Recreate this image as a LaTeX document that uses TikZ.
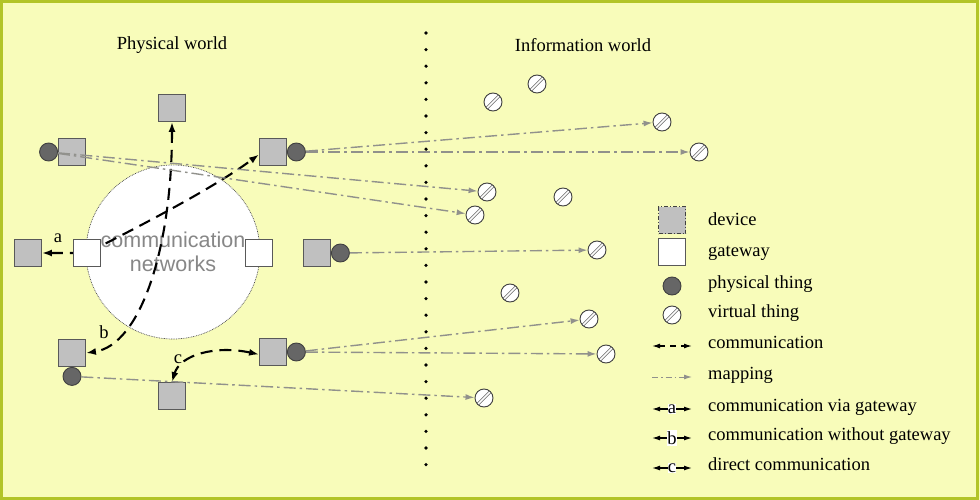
\documentclass[tikz,border=0pt]{standalone}
\usepackage{fontspec}
\setmainfont{Liberation Serif}
\setsansfont{Liberation Sans}
\usetikzlibrary{arrows.meta,positioning}

\definecolor{bgyellow}{RGB}{248,252,186}
\definecolor{frameolive}{RGB}{178,196,40}
\definecolor{devfill}{RGB}{192,192,192}
\definecolor{thingfill}{RGB}{102,102,102}
\definecolor{mapgray}{RGB}{145,145,140}
\definecolor{netgray}{RGB}{135,135,135}

\pgfdeclarelayer{bg}
\pgfsetlayers{bg,main}

\tikzset{
  txt/.style={font=\fontsize{18.5}{22}\selectfont},
  keytxt/.style={txt, anchor=west, text height=1.5ex, text depth=.25ex, inner sep=0pt},
  device/.style={draw=black!65, fill=devfill, line width=0.9pt, minimum size=27pt, inner sep=0pt},
  gateway/.style={draw=black!65, fill=white, line width=0.9pt, minimum size=27pt, inner sep=0pt},
  physthing/.style={circle, draw=black!75, fill=thingfill, line width=0.9pt, minimum size=18pt, inner sep=0pt},
  virtthing/.style={circle, draw=black!75, fill=white, line width=0.9pt, minimum size=18pt, inner sep=0pt,
    path picture={\draw[black!60, line width=0.7pt, double=white, double distance=1.5pt]
      (path picture bounding box.south west) -- (path picture bounding box.north east);}},
  comm/.style={line width=2.1pt, dash pattern=on 12pt off 7pt,
    {Latex[length=10pt,width=7pt]}-{Latex[length=10pt,width=7pt]}},
  mapping/.style={mapgray, line width=1.4pt, dash pattern=on 12pt off 4pt on 2.5pt off 4pt,
    -{Latex[length=9pt,width=6pt]}},
}

\begin{document}
\begin{tikzpicture}[x=1pt,y=-1pt]
\useasboundingbox (0,0) rectangle (980,500);
\begin{pgfonlayer}{bg}
\fill[bgyellow] (0,0) rectangle (980,500);
\draw[frameolive, line width=3pt] (1.5,1.5) rectangle (977,498);
\foreach \k in {0,...,26}
    \fill (426,{33+\k*16.6}) circle (1.8);
\node[circle, draw=black!70, fill=white, line width=0.7pt, dash pattern=on 0.8pt off 0.9pt,
  minimum size=174pt, inner sep=0pt, align=center, text=netgray,
  font=\sffamily\fontsize{21.5}{24}\selectfont] (net) at (173,252) {communication\\networks};
\end{pgfonlayer}

\node[txt] (phys) at (172,45) {Physical world};
\node[txt] (info) at (583,45) {Information world};

% devices and gateways
\node[device] (dtop) at (172,108) {};
\node[device] (dul) at (72,152) {};
\node[device] (dur) at (273,152) {};
\node[device] (dleft) at (28,253) {};
\node[device] (dright) at (317,253) {};
\node[device] (dll) at (72,353) {};
\node[device] (dlm) at (172,396) {};
\node[device] (dlr) at (273,352) {};
\node[gateway] (gwl) at (87,253) {};
\node[gateway] (gwr) at (259,253) {};

% physical things
\node[physthing, left=0pt of dul] (pul) {};
\node[physthing, right=0pt of dur] (pur) {};
\node[physthing, right=0pt of dright] (pright) {};
\node[physthing, below=0pt of dll] (pll) {};
\node[physthing, right=0pt of dlr] (plr) {};

% virtual things
\foreach \n/\x/\y in {1/493/102, 2/537/84, 3/662/122, 4/699/152, 5/487/192, 6/563/197,
    7/475/215, 8/597/250, 9/510/293, 10/589/319, 11/606/354, 12/484/398}
    \node[virtthing] (v\n) at (\x,\y) {};

\begin{pgfonlayer}{bg}
\draw[comm] (dleft.east) -- (gwl.center) .. controls (140,226) and (212,189) .. (dur.190);
\draw[comm] (dtop.south) .. controls (172,250) and (140,345) .. (dll.east);
\draw[comm] (dlr.190) .. controls (215,345) and (180,355) .. (dlm.north);
\end{pgfonlayer}
\node[txt] (la) at (58,238) {a};
\node[txt] (lb) at (104,332) {b};
\node[txt] (lc) at (178,359) {c};

% mappings
\draw[mapping] (pul) -- (v5);
\draw[mapping] (pul) -- (v7);
\draw[mapping] (pur) -- (v3);
\draw[mapping] (pur) -- (v4);
\draw[mapping] (pright) -- (v8);
\draw[mapping] (plr) -- (v10);
\draw[mapping] (plr) -- (v11);
\draw[mapping] (pll) -- (v12);

% legend
\node[device, draw=black!75, dash pattern=on 4pt off 2pt on 1pt off 2pt] (kdev) at (672,220) {};
\node[gateway] (kgw) at (672,252) {};
\node[physthing] (kphys) at (672,286) {};
\node[virtthing] (kvirt) at (672,315) {};
\coordinate (kc1) at (652,346);
\coordinate (kc2) at (692,346);
\draw[comm, line width=1.3pt, dash pattern=on 6pt off 5pt,
  {Latex[length=8pt,width=5pt]}-{Latex[length=8pt,width=5pt]}] (kc1) -- (kc2);
\coordinate (km1) at (652,377);
\coordinate (km2) at (692,377);
\draw[mapping, line width=1pt, dash pattern=on 6pt off 3pt on 1.5pt off 3pt,
  -{Latex[length=8pt,width=5pt]}] (km1) -- (km2);
\foreach \l/\y in {a/409, b/438, c/468} {
    \coordinate (k\l1) at (652,\y);
    \coordinate (k\l2) at (692,\y);
    \draw[line width=1.2pt, {Latex[length=8pt,width=5pt]}-{Latex[length=8pt,width=5pt]}]
      (k\l1) -- node[txt, fill=white, inner xsep=0.3pt, inner ysep=1pt] (k\l) {\l} (k\l2);
}
\foreach \t/\y [count=\i] in {device/223, gateway/254, physical thing/286, virtual thing/315,
    communication/346, mapping/377, communication via gateway/409,
    communication without gateway/438, direct communication/468}
    \node[keytxt] (key\i) at (708,\y) {\t};
\end{tikzpicture}
\end{document}
